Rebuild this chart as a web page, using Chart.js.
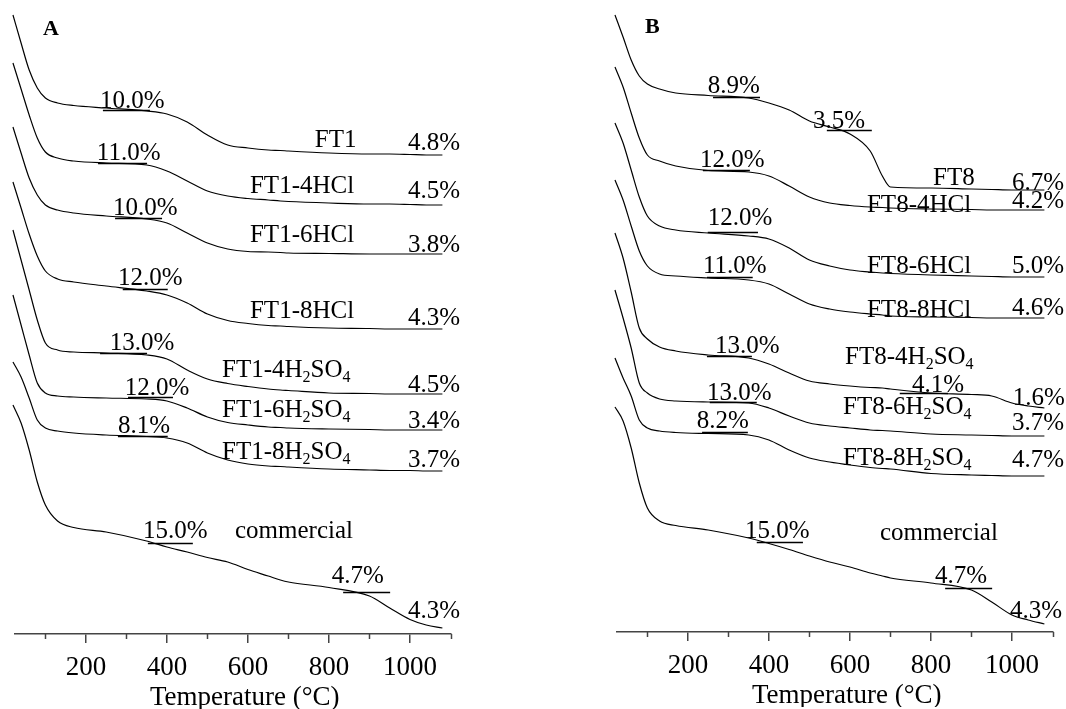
<!DOCTYPE html>
<html>
<head>
<meta charset="utf-8">
<script src="https://cdn.jsdelivr.net/npm/chart.js@4.4.0/dist/chart.umd.min.js"></script>
<style>
  html, body { margin: 0; padding: 0; background: #fff; overflow: hidden; }
  #wrapA { position: absolute; left: 0; top: 0; }
  #wrapB { position: absolute; left: 602px; top: -2px; }
</style>
</head>
<body>
<div id="wrapA"><canvas id="chartA" width="464" height="709"></canvas></div>
<div id="wrapB"><canvas id="chartB" width="464" height="709"></canvas></div>
<script>
// temperatures (°C) at which the curves were read
const temps = [20, 40, 60, 80, 100, 130, 170, 250, 350, 400, 450, 500, 550, 600, 650, 680, 700, 800, 900, 950, 1000, 1040, 1080];
const majorTicks = [200, 400, 600, 800, 1000];
const minorTicks = [100, 300, 500, 700, 900, 1100];

// panel A, stacked weight curves (offset units)
const ft1      = [619, 591, 564, 546, 536, 531, 528.5, 526, 523, 520, 512, 499, 489, 486, 484, 483.5, 483, 481, 480, 480, 479.5, 479, 479];
const ft1_4hcl = [571, 545, 519, 496, 482, 476, 473, 471, 469, 463, 453, 443, 438, 435.5, 434, 433, 432.5, 431, 430, 430, 429.5, 429, 429];
const ft1_6hcl = [507, 481, 456, 439, 429, 424, 421, 418, 415, 411, 401, 391, 385, 382.5, 382, 381.5, 381, 380.5, 380, 380, 380, 380, 380];
const ft1_8hcl = [452, 426, 400, 378, 363, 355, 352, 348, 343, 339, 331, 320, 313.5, 310.5, 308.5, 308, 307.5, 306, 305.5, 305, 305, 305, 305];
const ft1_4h2so4 = [404, 374, 344, 314, 291, 284, 282, 281, 279, 275, 264, 255, 250.5, 247.5, 245, 244, 243.5, 241, 240.5, 240, 240, 240, 240];
const ft1_6h2so4 = [339, 309, 279, 251, 241, 238, 237, 236, 235, 233, 226, 217, 211.5, 209, 207, 206.5, 206, 205, 204.5, 204, 204, 204, 204];
const ft1_8h2so4 = [272, 257, 236, 214, 206, 203, 201, 199, 197.5, 196, 191, 181, 174, 170, 168, 167.5, 167, 165, 164, 163.5, 163.5, 163, 163];
const comA     = [229, 211, 184, 152, 129, 113, 106.5, 102, 93, 87, 82, 76.5, 72, 64.5, 58, 54, 52, 46.5, 38, 26, 14.5, 9, 6];

// panel B
const ft8      = [617, 595, 572, 556, 548, 543, 539, 536.5, 534, 529, 522, 511, 505, 498, 481, 456, 445, 444, 443, 442.5, 442, 442, 442];
const ft8_4hcl = [565, 545, 519, 494, 477, 471, 466, 461.5, 460, 456, 446, 435, 429, 426.5, 425, 424.5, 424, 423, 422.5, 422, 422, 422, 422];
const ft8_6hcl = [509, 489, 462, 435, 416, 406, 402, 399, 396, 393, 384, 372, 366, 362, 360, 359, 358.5, 357, 356, 355.5, 355, 355, 355];
const ft8_8hcl = [452, 432, 406, 381, 366, 358, 356, 354, 352, 348, 338, 328, 323, 320, 318, 317, 316, 315, 314.5, 314, 314, 314, 314];
const ft8_4h2so4 = [399, 374, 340, 304, 293, 285, 281, 277, 274, 268, 259, 251, 248, 246, 244.5, 244, 243, 239, 237.5, 236, 229, 226, 224];
const ft8_6h2so4 = [342, 314, 284, 249, 239, 233, 231, 230, 229, 224, 216, 209, 206, 204, 202, 201.5, 201, 198, 197, 196.5, 196, 196, 196];
const ft8_8h2so4 = [274, 254, 236, 212, 204, 201, 199.5, 198.5, 197, 192, 182, 174, 170, 167, 164.5, 163.5, 163, 158.5, 157, 156.5, 156, 156, 156];
const comB     = [225, 211, 184, 149, 124, 111, 106.5, 102, 94, 88.5, 82.5, 76, 70, 65, 59, 56, 54, 49, 42, 30, 17, 12, 8];

// text notes: [text, temperature, value]   (_n = subscript)
const notesA = [
  ["10.0%", 235, 526], ["FT1", 765, 487], ["4.8%", 995, 484],
  ["11.0%", 227, 474], ["FT1-4HCl", 605, 441], ["4.5%", 995, 436],
  ["10.0%", 267, 419], ["FT1-6HCl", 605, 392], ["3.8%", 995, 382],
  ["12.0%", 279, 349], ["FT1-8HCl", 605, 316], ["4.3%", 995, 309],
  ["13.0%", 259, 284], ["FT1-4H_2SO_4", 536, 257], ["4.5%", 995, 242],
  ["12.0%", 296, 239], ["FT1-6H_2SO_4", 536, 217], ["3.4%", 995, 206],
  ["8.1%", 279, 201], ["FT1-8H_2SO_4", 536, 175], ["3.7%", 995, 167],
  ["15.0%", 341, 96], ["commercial", 568, 96], ["4.7%", 807, 51], ["4.3%", 995, 16]
];
// step marks: [from, to, value]
const barsA = [[242, 358, 524], [230, 351, 471], [272, 388, 416], [291, 402, 345], [235, 351, 281],
  [304, 415, 237], [279, 402, 198], [353, 464, 91], [835, 951, 42]];

const notesB = [
  ["8.9%", 249, 539], ["3.5%", 509, 504],
  ["12.0%", 230, 465], ["FT8", 805, 447], ["6.7%", 1000, 442],
  ["FT8-4HCl", 642, 420], ["4.2%", 1000, 424],
  ["12.0%", 249, 407], ["11.0%", 237, 359], ["FT8-6HCl", 642, 359], ["5.0%", 1000, 359],
  ["FT8-8HCl", 642, 315], ["4.6%", 1000, 317],
  ["13.0%", 267, 279], ["FT8-4H_2SO_4", 588, 268], ["4.1%", 753, 240], ["1.6%", 1002, 227],
  ["13.0%", 247, 232], ["FT8-6H_2SO_4", 583, 218], ["3.7%", 1000, 202],
  ["8.2%", 222, 204], ["FT8-8H_2SO_4", 583, 167], ["4.7%", 1000, 165],
  ["15.0%", 341, 94], ["commercial", 674, 92], ["4.7%", 810, 49], ["4.3%", 995, 14]
];
const barsB = [[262, 378, 535], [543, 654, 502], [237, 353, 462], [249, 373, 400], [247, 360, 355],
  [247, 358, 276], [723, 842, 239], [254, 370, 230], [235, 348, 200], [370, 484, 90], [835, 951, 44]];

const axisTitle = "Temperature (°C)";
const axisColor = "#444";
const serif = "Liberation Serif";

function drawRich(ctx, txt, px, py) {
  const parts = txt.split(/_(\d)/);
  let cx = px;
  parts.forEach((p, i) => {
    if (!p) return;
    const sub = i % 2 === 1;
    ctx.font = (sub ? "16px " : "25px ") + '"' + serif + '"';
    ctx.fillText(p, cx, py + (sub ? 5 : 0));
    cx += ctx.measureText(p).width;
  });
}

function notesPlugin(panel, notes, bars) {
  return {
    id: "notes" + panel,
    afterDraw(chart) {
      const ctx = chart.ctx;
      const x = chart.scales.x, y = chart.scales.y;
      const area = chart.chartArea;
      ctx.save();
      ctx.strokeStyle = "#000";
      ctx.lineWidth = 1.3;
      bars.forEach(([t1, t2, v]) => {
        const py = Math.round(y.getPixelForValue(v)) + 0.5;
        ctx.beginPath();
        ctx.moveTo(x.getPixelForValue(t1), py);
        ctx.lineTo(x.getPixelForValue(t2), py);
        ctx.stroke();
      });
      ctx.fillStyle = "#000";
      ctx.textBaseline = "alphabetic";
      ctx.textAlign = "left";
      notes.forEach(([txt, t, v]) => drawRich(ctx, txt, x.getPixelForValue(t), y.getPixelForValue(v)));
      // minor ticks
      ctx.strokeStyle = axisColor;
      ctx.lineWidth = 1.5;
      minorTicks.forEach(t => {
        const px = Math.round(x.getPixelForValue(t)) + 0.5;
        ctx.beginPath();
        ctx.moveTo(px, x.top);
        ctx.lineTo(px, x.top + 5);
        ctx.stroke();
      });
      // axis title (sits a bit right of centre in the original)
      ctx.textAlign = "center";
      ctx.font = '27px "' + serif + '"';
      ctx.fillText(axisTitle, (area.left + area.right) / 2 + 12, 705);
      // panel letter
      ctx.textAlign = "left";
      ctx.font = 'bold 22px "' + serif + '"';
      ctx.fillText(panel, area.left + 28, area.top + 35);
      ctx.restore();
    }
  };
}

function series(vals) {
  return {
    data: temps.map((t, i) => ({ x: t, y: vals[i] })),
    borderColor: "#000",
    borderWidth: 1.2,
    pointRadius: 0,
    fill: false,
    cubicInterpolationMode: "monotone",
    clip: false
  };
}

function makeChart(id, panel, curves, notes, bars) {
  new Chart(document.getElementById(id), {
    type: "line",
    data: { datasets: curves.map(series) },
    options: {
      responsive: false,
      animation: false,
      layout: { padding: { left: 15, right: 13.5, top: 0, bottom: 17 } },
      plugins: { legend: { display: false }, tooltip: { enabled: false } },
      scales: {
        x: {
          type: "linear",
          min: 25,
          max: 1100,
          afterBuildTicks: s => { s.ticks = majorTicks.map(v => ({ value: v })); },
          ticks: {
            font: { family: serif, size: 27, lineHeight: 1 },
            color: "#000",
            padding: 11,
            maxRotation: 0,
            autoSkip: false,
            callback: v => String(v)
          },
          grid: { drawOnChartArea: false, tickLength: 9, color: axisColor, lineWidth: 1.5 },
          border: { color: axisColor, width: 1.5 },
          title: { display: false }
        },
        y: { display: false, min: 0, max: 634 }
      }
    },
    plugins: [notesPlugin(panel, notes, bars)]
  });
}

makeChart("chartA", "A", [ft1, ft1_4hcl, ft1_6hcl, ft1_8hcl, ft1_4h2so4, ft1_6h2so4, ft1_8h2so4, comA], notesA, barsA);
makeChart("chartB", "B", [ft8, ft8_4hcl, ft8_6hcl, ft8_8hcl, ft8_4h2so4, ft8_6h2so4, ft8_8h2so4, comB], notesB, barsB);
</script>
</body>
</html>
